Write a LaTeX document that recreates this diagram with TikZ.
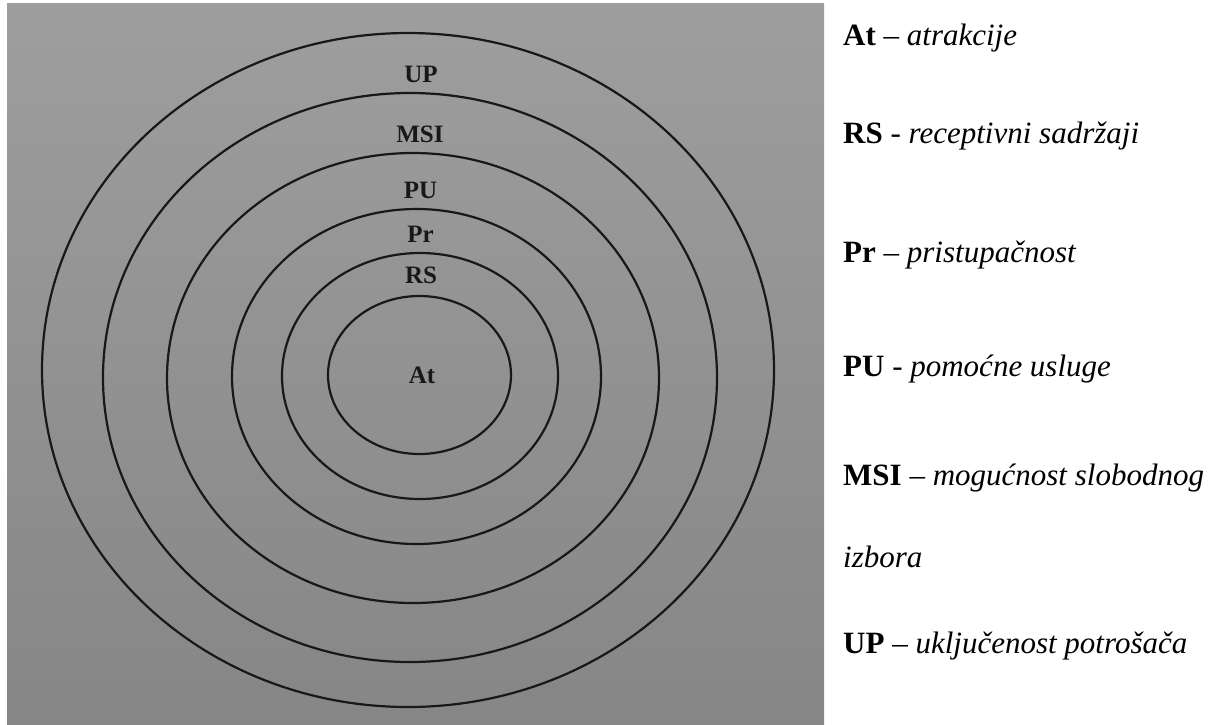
\documentclass[tikz,border=0pt]{standalone}
\usepackage{fontspec}
\setmainfont{Liberation Serif}
\definecolor{photoTop}{RGB}{158,158,158}
\definecolor{photoBot}{RGB}{134,134,134}
\definecolor{ink}{RGB}{24,24,24}
\tikzset{
  ring/.style={draw=ink, line width=2.2pt},
  ringlabel/.style={anchor=base, inner sep=0pt, text=ink, font=\fontsize{25}{30}\selectfont\bfseries},
  legend/.style={anchor=base west, inner sep=0pt, font=\fontsize{31}{37}\selectfont}
}
\begin{document}
\begin{tikzpicture}[x=1pt,y=-1pt]
\useasboundingbox (0,0) rectangle (1228,724);
\fill[white] (0,0) rectangle (1228,724);
\shade[top color=photoTop, bottom color=photoBot] (7,3) rectangle (824,724);
% concentric rings
\draw[ring] (408,370) ellipse [x radius=366pt, y radius=337pt];
\draw[ring] (410,377.5) ellipse [x radius=307pt, y radius=284.5pt];
\draw[ring] (413,378) ellipse [x radius=246pt, y radius=225pt];
\draw[ring] (416.5,376.5) ellipse [x radius=184.5pt, y radius=167.5pt];
\draw[ring] (420,376) ellipse [x radius=138pt, y radius=123pt];
\draw[ring] (419.5,375) ellipse [x radius=91.5pt, y radius=79pt];
% ring labels
\node[ringlabel] (lUP) at (421,82) {UP};
\node[ringlabel] (lMSI) at (420,142) {MSI};
\node[ringlabel] (lPU) at (420.5,198) {PU};
\node[ringlabel] (lPr) at (420.5,242) {Pr};
\node[ringlabel] (lRS) at (421,283) {RS};
\node[ringlabel] (lAt) at (422,383) {At};
% legend
\node[legend] (gAt) at (843,45) {\textbf{At} -- \textit{atrakcije}};
\node[legend] (gRS) at (843,143) {\textbf{RS} - \textit{receptivni sadržaji}};
\node[legend] (gPr) at (843,262) {\textbf{Pr} -- \textit{pristupačnost}};
\node[legend] (gPU) at (843,376) {\textbf{PU} - \textit{pomoćne usluge}};
\node[legend] (gMSI) at (843,485) {\textbf{MSI} -- \textit{mogućnost slobodnog}};
\node[legend] (gMSI2) at (843,567) {\textit{izbora}};
\node[legend] (gUP) at (843,653) {\textbf{UP} -- \textit{uključenost potrošača}};
\end{tikzpicture}
\end{document}
